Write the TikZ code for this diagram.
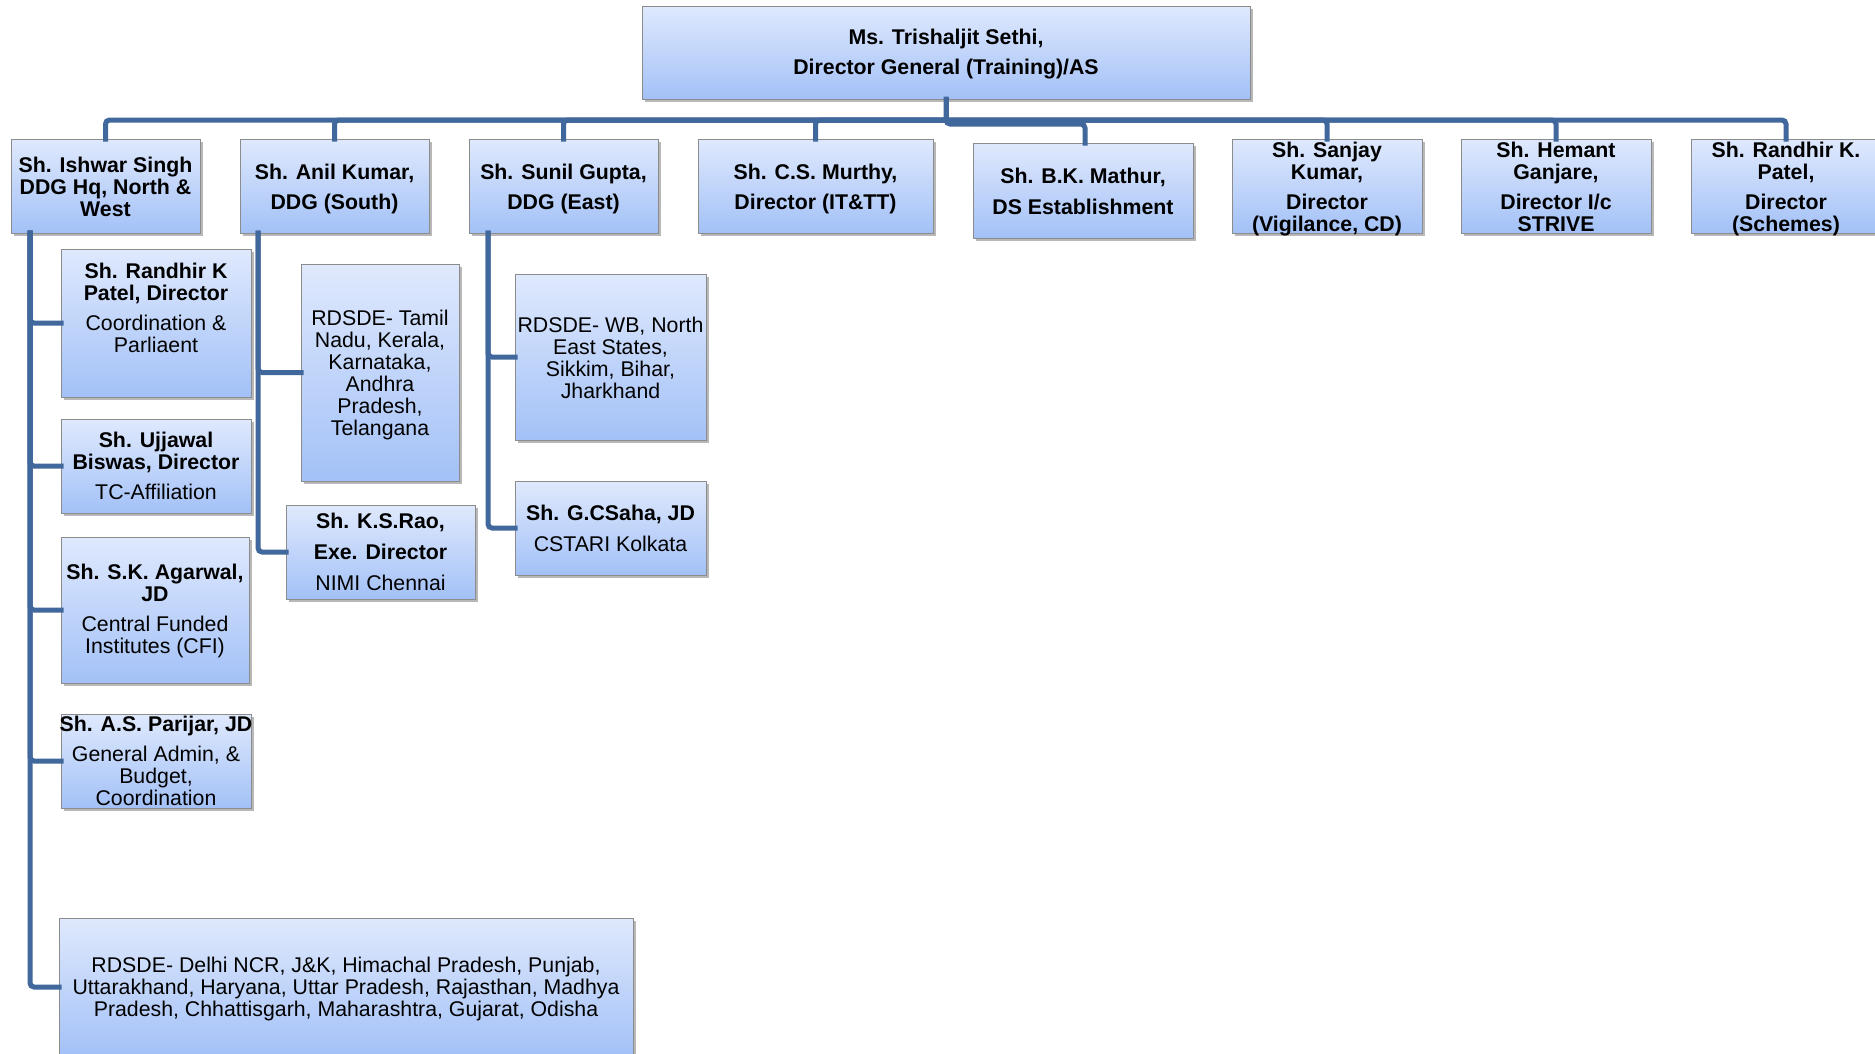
\documentclass[tikz,border=0pt]{standalone}
\usepackage{fontspec}
\setmainfont{Liberation Sans}
\usetikzlibrary{shadows}
\definecolor{boxtop}{HTML}{DFE9FD}
\definecolor{boxbot}{HTML}{A3C1F7}
\definecolor{boxline}{HTML}{8C8C8C}
\definecolor{conncol}{HTML}{41689C}
\begin{document}
\begin{tikzpicture}[x=1pt,y=-1pt,
  box/.style={draw=boxline, line width=1pt, top color=boxtop, bottom color=boxbot,
    drop shadow={shadow xshift=2.5pt, shadow yshift=-3pt, fill=black, opacity=0.28},
    inner sep=0pt, outer sep=0pt, anchor=north west},
  tx/.style={font=\fontsize{21.3}{22}\selectfont, align=center, inner sep=0pt, text=black, yshift=-2.5pt},
  conn/.style={draw=conncol, line width=5pt, rounded corners=4pt, line cap=rect}]
\useasboundingbox (0,0) rectangle (1875,1053);
\clip (0,0) rectangle (1875,1053);
\fill[white] (0,0) rectangle (1875,1053);

% top box
\node[box, minimum width=608pt, minimum height=93pt] (top) at (642,6) {};
% level-1 boxes
\node[box, minimum width=189pt, minimum height=94pt] (b1) at (11,139) {};
\node[box, minimum width=189pt, minimum height=94pt] (b2) at (240,139) {};
\node[box, minimum width=189pt, minimum height=94pt] (b3) at (469,139) {};
\node[box, minimum width=235pt, minimum height=94pt] (b4) at (698,139) {};
\node[box, minimum width=220pt, minimum height=95pt] (b5) at (973,143) {};
\node[box, minimum width=190pt, minimum height=94pt] (b6) at (1232,139) {};
\node[box, minimum width=190pt, minimum height=94pt] (b7) at (1461,139) {};
\node[box, minimum width=190pt, minimum height=94pt] (b8) at (1691,139) {};
% Ishwar children
\node[box, minimum width=190pt, minimum height=148pt] (s1) at (61,249) {};
\node[box, minimum width=190pt, minimum height=94pt] (s2) at (61,419) {};
\node[box, minimum width=188pt, minimum height=146pt] (s3) at (61,537) {};
\node[box, minimum width=190pt, minimum height=94pt] (s4) at (61,714) {};
\node[box, minimum width=574pt, minimum height=138pt] (s5) at (59,918) {};
% Anil children
\node[box, minimum width=158pt, minimum height=217pt] (a1) at (301,264) {};
\node[box, minimum width=189pt, minimum height=94pt] (a2) at (286,505) {};
% Sunil children
\node[box, minimum width=191pt, minimum height=166pt] (e1) at (515,274) {};
\node[box, minimum width=191pt, minimum height=94pt] (e2) at (515,481) {};

% texts
\node[tx] (ttop) at (946,52) {\textbf{Ms. Trishaljit Sethi,}\\[8pt]\textbf{Director General (Training)/AS}};
\node[tx] (tb1) at (105.5,184.5) {\textbf{Sh. Ishwar Singh}\\\textbf{DDG Hq, North \&}\\\textbf{West}};
\node[tx] (tb2) at (334.5,186) {\textbf{Sh. Anil Kumar,}\\[8pt]\textbf{DDG (South)}};
\node[tx] (tb3) at (563.5,186) {\textbf{Sh. Sunil Gupta,}\\[8pt]\textbf{DDG (East)}};
\node[tx] (tb4) at (815.5,186) {\textbf{Sh. C.S. Murthy,}\\[8pt]\textbf{Director (IT\&TT)}};
\node[tx] (tb5) at (1083,189) {\textbf{Sh. B.K. Mathur,}\\[9pt]\textbf{DS Establishment}};
\node[tx] (tb6) at (1327,186.5) {\textbf{Sh. Sanjay}\\\textbf{Kumar,}\\[8pt]\textbf{Director}\\\textbf{(Vigilance, CD)}};
\node[tx] (tb7) at (1556,184.5) {\textbf{Sh. Hemant}\\\textbf{Ganjare,}\\[8pt]\textbf{Director I/c}\\\textbf{STRIVE}};
\node[tx] (tb8) at (1786,186.5) {\textbf{Sh. Randhir K.}\\\textbf{Patel,}\\[8pt]\textbf{Director}\\\textbf{(Schemes)}};

\node[tx] (ts1) at (156,305) {\textbf{Sh. Randhir K}\\\textbf{Patel, Director}\\[8pt]Coordination \&\\Parliaent};
\node[tx] (ts2) at (156,463) {\textbf{Sh. Ujjawal}\\\textbf{Biswas, Director}\\[8pt]TC-Affiliation};
\node[tx] (ts3) at (155,608) {\textbf{Sh. S.K. Agarwal,}\\\textbf{JD}\\[8pt]Central Funded\\Institutes (CFI)};
\node[tx] (ts4) at (156,758.5) {\textbf{Sh. A.S. Parijar, JD}\\[8pt]General Admin, \&\\Budget,\\Coordination};
\node[tx] (ts5) at (346,986) {RDSDE- Delhi NCR, J\&K, Himachal Pradesh, Punjab,\\Uttarakhand, Haryana, Uttar Pradesh, Rajasthan, Madhya\\Pradesh, Chhattisgarh, Maharashtra, Gujarat, Odisha};
\node[tx] (ta1) at (380,372.5) {RDSDE- Tamil\\Nadu, Kerala,\\Karnataka,\\Andhra\\Pradesh,\\Telangana};
\node[tx] (ta2) at (380.5,549) {\textbf{Sh. K.S.Rao,}\\[9pt]\textbf{Exe. Director}\\[9pt]NIMI Chennai};
\node[tx] (te1) at (610.5,355) {RDSDE- WB, North\\East States,\\Sikkim, Bihar,\\Jharkhand};
\node[tx] (te2) at (610.5,525.5) {\textbf{Sh. G.CSaha, JD}\\[9pt]CSTARI Kolkata};

% connectors
\coordinate (bus) at (946,120);
\coordinate (mj) at (1085,124);
\draw[conn] (top.south) -- (bus);
\foreach \b in {b1,b2,b3,b4,b6,b7,b8} {\draw[conn] (bus) -| (\b.north);}
\draw[conn] (top.south) |- (mj) -- (b5.north -| mj);
\foreach \c in {s1,s2,s3,s4,s5} {\draw[conn] ([xshift=19pt]b1.south west) |- (\c.west);}
\foreach \c in {a1,a2} {\draw[conn] ([xshift=18pt]b2.south west) |- (\c.west);}
\foreach \c in {e1,e2} {\draw[conn] ([xshift=19pt]b3.south west) |- (\c.west);}
\end{tikzpicture}
\end{document}
